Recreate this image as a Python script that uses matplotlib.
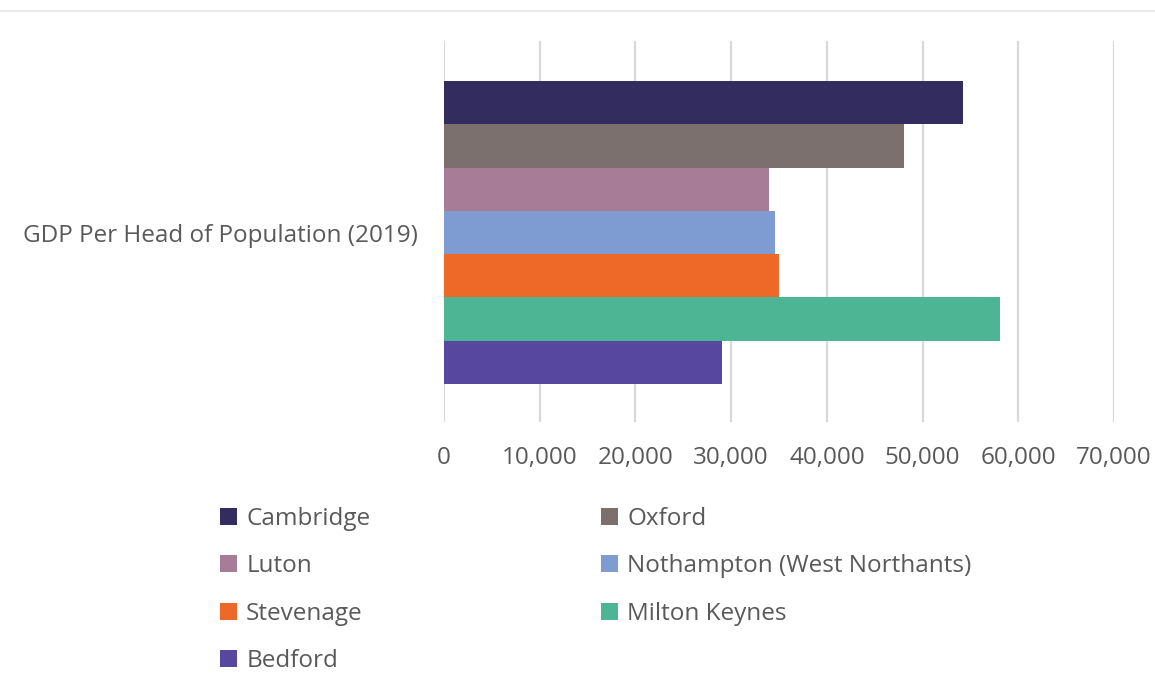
import matplotlib.pyplot as plt
from matplotlib.lines import Line2D
from matplotlib.ticker import FuncFormatter

plt.rcParams['font.family'] = ['Open Sans', 'DejaVu Sans']

# GDP per head of population, 2019
category = "GDP Per Head of Population (2019)"
places = ["Cambridge", "Oxford", "Luton", "Nothampton (West Northants)",
          "Stevenage", "Milton Keynes", "Bedford"]
gdp_per_head = [54200, 48100, 34000, 34600, 35000, 58100, 29000]
colors = ["#332C5E", "#7B706E", "#A67C96", "#7E9CD2",
          "#EE6828", "#4DB594", "#58479E"]
x_ticks = [0, 10000, 20000, 30000, 40000, 50000, 60000, 70000]

text_col = "#595959"
grid_col = "#D9D9D9"
fs = 17.5

fig = plt.figure(figsize=(11.55, 6.75), dpi=100)
ax = fig.add_axes([444 / 1155, 1 - 422 / 675, (1114 - 444) / 1155, (422 - 41) / 675])

bars = []
for i, (name, val, c) in enumerate(zip(places, gdp_per_head, colors)):
    b = ax.barh(i, val, height=1.0, color=c, label=name, zorder=3)
    bars.append(b)

ax.set_xlim(0, 70000)
ax.set_ylim(7.377, -1.424)
ax.set_xticks(x_ticks)
ax.xaxis.set_major_formatter(FuncFormatter(lambda v, p: f"{int(v):,}"))
ax.set_yticks([(len(places) - 1) / 2])
ax.set_yticklabels([category])
ax.tick_params(axis='x', length=0, pad=17, labelsize=fs, labelcolor=text_col)
ax.tick_params(axis='y', length=0, pad=19, labelsize=fs, labelcolor=text_col)
ax.grid(axis='x', color=grid_col, lw=1.6, zorder=0)
for s in ax.spines.values():
    s.set_visible(False)

# thin separator across the top
fig.add_artist(Line2D([0, 1], [1 - 11 / 675, 1 - 11 / 675], color="#E8E8E8", lw=1.5))

# legend filled row by row in two columns
order = [0, 2, 4, 6, 1, 3, 5]
handles = [bars[i] for i in order]
labels = [places[i] for i in order]
leg = fig.legend(handles, labels, ncol=2, loc='upper left',
                 bbox_to_anchor=(208 / 1155, 1 - 495 / 675),
                 frameon=False, fontsize=fs, labelcolor=text_col,
                 handlelength=0.7, handleheight=0.7, handletextpad=0.37,
                 labelspacing=0.96, columnspacing=9.5, borderpad=0)

fig.savefig("out.png", dpi=100)
